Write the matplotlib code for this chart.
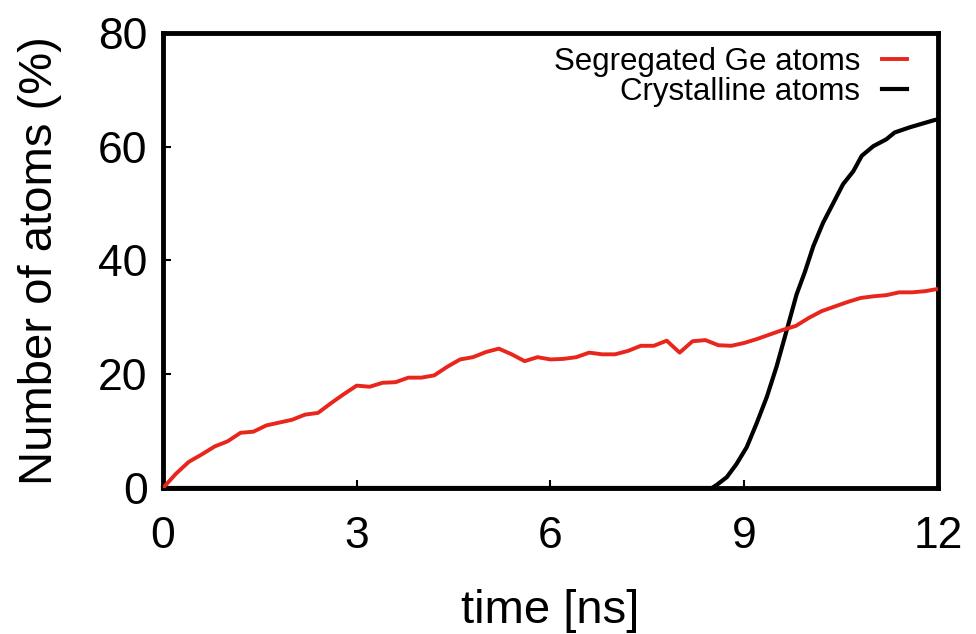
import matplotlib
matplotlib.use("Agg")
import matplotlib.pyplot as plt

# segregated Ge atoms (red), sampled every 0.2 ns
t_seg = [0.0, 0.2, 0.4, 0.6, 0.8, 1.0, 1.2, 1.4, 1.6, 1.8,
         2.0, 2.2, 2.4, 2.6, 2.8, 3.0, 3.2, 3.4, 3.6, 3.8,
         4.0, 4.2, 4.4, 4.6, 4.8, 5.0, 5.2, 5.4, 5.6, 5.8,
         6.0, 6.2, 6.4, 6.6, 6.8, 7.0, 7.2, 7.4, 7.6, 7.8,
         8.0, 8.2, 8.4, 8.6, 8.8, 9.0, 9.2, 9.4, 9.6, 9.8,
         10.0, 10.2, 10.4, 10.6, 10.8, 11.0, 11.2, 11.4, 11.6, 11.8, 12.0]
seg = [0.0, 2.5, 4.6, 5.9, 7.3, 8.2, 9.7, 9.9, 11.0, 11.5,
       12.0, 12.9, 13.2, 14.9, 16.5, 18.0, 17.8, 18.5, 18.6, 19.4,
       19.4, 19.8, 21.3, 22.6, 23.0, 23.9, 24.5, 23.5, 22.3, 23.0,
       22.6, 22.7, 23.0, 23.8, 23.5, 23.5, 24.1, 25.0, 25.0, 25.9,
       23.8, 25.8, 26.0, 25.1, 25.0, 25.5, 26.2, 27.0, 27.8, 28.5,
       29.9, 31.1, 31.9, 32.7, 33.4, 33.7, 33.9, 34.4, 34.4, 34.6, 35.0]

# crystalline atoms (black)
t_cry = [0.0, 1.0, 2.0, 3.0, 4.0, 5.0, 6.0, 7.0, 8.0, 8.5,
         8.57, 8.73, 8.88, 9.04, 9.19, 9.35, 9.5, 9.66, 9.81, 9.94,
         10.07, 10.22, 10.38, 10.53, 10.69, 10.82, 11.0, 11.2, 11.33, 11.56,
         11.77, 11.95, 12.0]
cry = [0.0, 0.0, 0.0, 0.0, 0.0, 0.0, 0.0, 0.0, 0.0, 0.0,
       0.5, 1.9, 4.2, 7.2, 11.3, 16.0, 21.3, 27.8, 34.0, 38.0,
       42.5, 46.6, 50.1, 53.4, 55.7, 58.4, 60.1, 61.3, 62.5, 63.4,
       64.1, 64.7, 64.8]

xticks = [0, 3, 6, 9, 12]
yticks = [0, 20, 40, 60, 80]

plt.rcParams['font.family'] = ['Liberation Sans', 'DejaVu Sans']

fig = plt.figure(figsize=(9.76, 6.34), dpi=100)
ax = fig.add_axes([0.167, 0.2303, 0.794, 0.7177])

ax.plot(t_seg, seg, color='#e8261c', lw=2.8, label='Segregated Ge atoms', zorder=3)
ax.plot(t_cry, cry, color='black', lw=3.0, label='Crystalline atoms', zorder=2,
        clip_on=False)

ax.set_xlim(0, 12)
ax.set_ylim(0, 80)
ax.set_xticks(xticks)
ax.set_yticks(yticks)
ax.tick_params(direction='in', length=6, width=1.5, labelsize=32)
ax.tick_params(axis='x', pad=20)
ax.tick_params(axis='y', pad=11)
for s in ax.spines.values():
    s.set_linewidth(3.5)

ax.set_xlabel('time [ns]', fontsize=34)
ax.set_ylabel('Number of atoms (%)', fontsize=34)
ax.xaxis.set_label_coords(0.5, -0.223)
ax.yaxis.set_label_coords(-0.13, 0.5)

ax.legend(loc='upper right', bbox_to_anchor=(0.988, 1.018), frameon=False,
          fontsize=22.5, markerfirst=False, handlelength=0.8, handletextpad=0.7,
          labelspacing=0.0, borderaxespad=0.3, borderpad=0.4)

fig.savefig('out.png', dpi=100)
